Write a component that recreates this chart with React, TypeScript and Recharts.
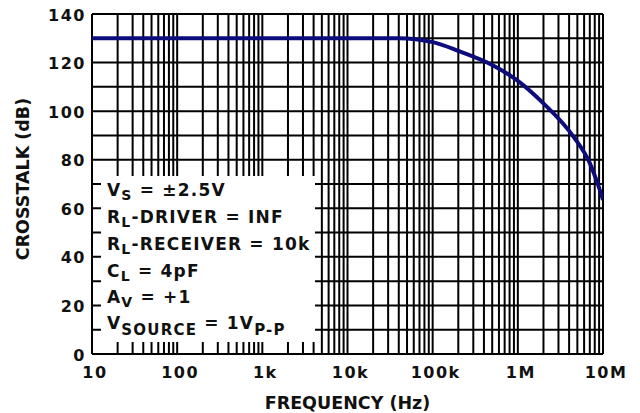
import React from "react";
import { LineChart, Line, XAxis, YAxis, CartesianGrid } from "recharts";

const frequencies = [10, 100, 1000, 10000, 40000, 100000, 200000, 500000, 1000000, 2000000, 4500000, 7000000, 8500000, 10000000];
const crosstalk = [130, 130, 130, 130, 130, 128.4, 124.8, 119, 112.5, 103.2, 89.5, 78.6, 71, 63.5];

const decadeTicks = [10, 100, 1000, 10000, 100000, 1000000, 10000000];
const decadeLabels = ["10", "100", "1k", "10k", "100k", "1M", "10M"];
const yTicks = [0, 10, 20, 30, 40, 50, 60, 70, 80, 90, 100, 110, 120, 130, 140];
const yLabelTicks = [0, 20, 40, 60, 80, 100, 120, 140];

const data = frequencies.map((f, i) => ({ freq: f, db: crosstalk[i] }));

// grid lines at 1..9 of every decade
const xGridTicks: number[] = [];
decadeTicks.slice(0, -1).forEach((d) => {
  for (let m = 1; m < 10; m++) xGridTicks.push(d * m);
});
xGridTicks.push(decadeTicks[decadeTicks.length - 1]);

const FONT = "'DejaVu Sans', Verdana, sans-serif";
const LINE_COLOR = "#0c0c7c";

const XTick = (props: any) => {
  const { x, y, payload } = props;
  const idx = decadeTicks.indexOf(payload.value);
  if (idx < 0) return <g />;
  return (
    <text x={x + 3} y={y + 24} textAnchor="middle" fontFamily={FONT} fontWeight="bold" fontSize={16} letterSpacing={1.5} fill="#111">
      {decadeLabels[idx]}
    </text>
  );
};

const YTick = (props: any) => {
  const { x, y, payload } = props;
  if (!yLabelTicks.includes(payload.value)) return <g />;
  return (
    <text x={x - 6} y={y + 6.5} textAnchor="end" fontFamily={FONT} fontWeight="bold" fontSize={16} letterSpacing={1.5} fill="#111">
      {payload.value}
    </text>
  );
};

const legendStyle = {
  fontFamily: FONT,
  fontWeight: "bold" as const,
  fontSize: 17,
  letterSpacing: 1.2,
  fill: "#111",
};

export default function App() {
  return (
    <div style={{ position: "absolute", left: 0, top: 0, width: 640, height: 413, background: "#fff" }}>
      <LineChart width={640} height={413} data={data} margin={{ top: 14, right: 37, bottom: 0, left: 0 }}>
        <CartesianGrid stroke="#000" strokeWidth={2} />
        <XAxis
          dataKey="freq"
          type="number"
          scale="log"
          domain={[10, 10000000]}
          ticks={xGridTicks}
          interval={0}
          allowDataOverflow
          height={59}
          tickLine={false}
          axisLine={false}
          tickSize={0}
          tickMargin={0}
          tick={<XTick />}
        />
        <YAxis
          type="number"
          domain={[0, 140]}
          ticks={yTicks}
          interval={0}
          width={92}
          tickLine={false}
          axisLine={false}
          tickSize={0}
          tickMargin={0}
          tick={<YTick />}
        />
        <Line type="monotone" dataKey="db" stroke={LINE_COLOR} strokeWidth={4} dot={false} isAnimationActive={false} />
      </LineChart>
      <svg width={640} height={413} style={{ position: "absolute", left: 0, top: 0, pointerEvents: "none" }}>
        <rect x={101} y={176} width={214} height={166} fill="#fff" />
        <text x={107} y={196} {...legendStyle}>
          V<tspan fontSize={14} dy={4}>S</tspan>
          <tspan dy={-4}> = ±2.5V</tspan>
        </text>
        <text x={107} y={223} {...legendStyle}>
          R<tspan fontSize={14} dy={4}>L</tspan>
          <tspan dy={-4}>-DRIVER = INF</tspan>
        </text>
        <text x={107} y={250} {...legendStyle}>
          R<tspan fontSize={14} dy={4}>L</tspan>
          <tspan dy={-4}>-RECEIVER = 10k</tspan>
        </text>
        <text x={107} y={277} {...legendStyle}>
          C<tspan fontSize={14} dy={4}>L</tspan>
          <tspan dy={-4}> = 4pF</tspan>
        </text>
        <text x={107} y={303} {...legendStyle}>
          A<tspan fontSize={14} dy={4}>V</tspan>
          <tspan dy={-4}> = +1</tspan>
        </text>
        <text x={107} y={329} {...legendStyle}>
          V<tspan fontSize={15} dy={6}>SOURCE</tspan>
          <tspan dy={-6}> = 1V</tspan>
          <tspan fontSize={15} dy={6}>P-P</tspan>
        </text>
        <text x={347.5} y={409} textAnchor="middle" fontFamily={FONT} fontWeight="bold" fontSize={17.5} fill="#111">
          FREQUENCY (Hz)
        </text>
        <text
          x={0}
          y={0}
          transform="translate(29, 179) rotate(-90)"
          textAnchor="middle"
          fontFamily={FONT}
          fontWeight="bold"
          fontSize={17.5}
          fill="#111"
        >
          CROSSTALK (dB)
        </text>
      </svg>
    </div>
  );
}
